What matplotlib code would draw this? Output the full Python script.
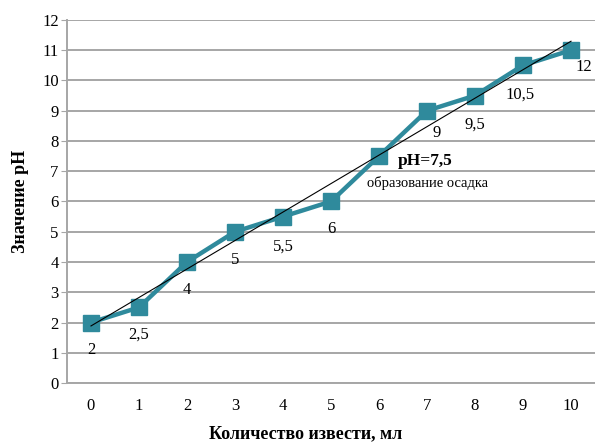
import numpy as np
import matplotlib
matplotlib.use('Agg')
from matplotlib import pyplot as plt

# data
lime_ml = [0, 1, 2, 3, 4, 5, 6, 7, 8, 9, 10]
ph_values = [2, 2.5, 4, 5, 5.5, 6, 7.5, 9, 9.5, 10.5, 11]
point_labels = ['2', '2,5', '4', '5', '5,5', '6', '', '9', '9,5', '10,5', '12']
y_ticks = list(range(0, 13))

serif = ['Liberation Serif', 'DejaVu Serif']
plt.rcParams['font.family'] = serif

fig = plt.figure(figsize=(5.95, 4.43), dpi=100)
ax = fig.add_axes([0.1126, 0.1354, 0.8874, 0.8196])

ax.set_xlim(-0.5, 10.5)
ax.set_ylim(0, 12)
ax.set_yticks(y_ticks)
ax.set_xticks(lime_ml)
ax.grid(True, axis='y', color='#a6a6a6', linewidth=1.4)
ax.set_axisbelow(True)
for side in ['top', 'right']:
    ax.spines[side].set_visible(False)
ax.spines['left'].set_color('#a6a6a6')
ax.spines['bottom'].set_color('#a6a6a6')
ax.spines['left'].set_linewidth(1.4)
ax.spines['bottom'].set_linewidth(1.4)
ax.tick_params(axis='y', length=4, color='#a6a6a6', labelsize=12, pad=2)
ax.tick_params(axis='x', length=0, labelsize=12, pad=11)

# main series
ax.plot(lime_ml, ph_values, color='#2f8a9c', linewidth=3.2,
        marker='s', markersize=11.5, zorder=3)

# linear trend line
k, b = np.polyfit(lime_ml, ph_values, 1)
xs = np.array([lime_ml[0], lime_ml[-1]])
ax.plot(xs, k * xs + b, color='black', linewidth=0.8, zorder=4)

# point labels
offsets = [(0, -27), (0, -27), (0, -28), (0, -28), (0, -30), (0, -28),
           (0, 0), (10, -22), (0, -29), (-3, -29), (13, -17)]
for x, y, lab, off in zip(lime_ml, ph_values, point_labels, offsets):
    if lab:
        ax.annotate(lab, (x, y), xytext=off, textcoords='offset pixels',
                    ha='center', va='center', fontsize=12)

ax.text(6.4, 7.35, 'pH=7,5', fontsize=12.5, fontweight='bold',
        ha='left', va='center')
ax.text(5.75, 6.62, 'образование осадка', fontsize=10.5,
        ha='left', va='center')

fig.text(0.034, 0.545, 'Значение pH', fontsize=13, fontweight='bold',
         rotation=90, ha='center', va='center')
fig.text(0.513, 0.022, 'Количество извести, мл', fontsize=13,
         fontweight='bold', ha='center', va='center')

fig.savefig('out.png', dpi=100)
